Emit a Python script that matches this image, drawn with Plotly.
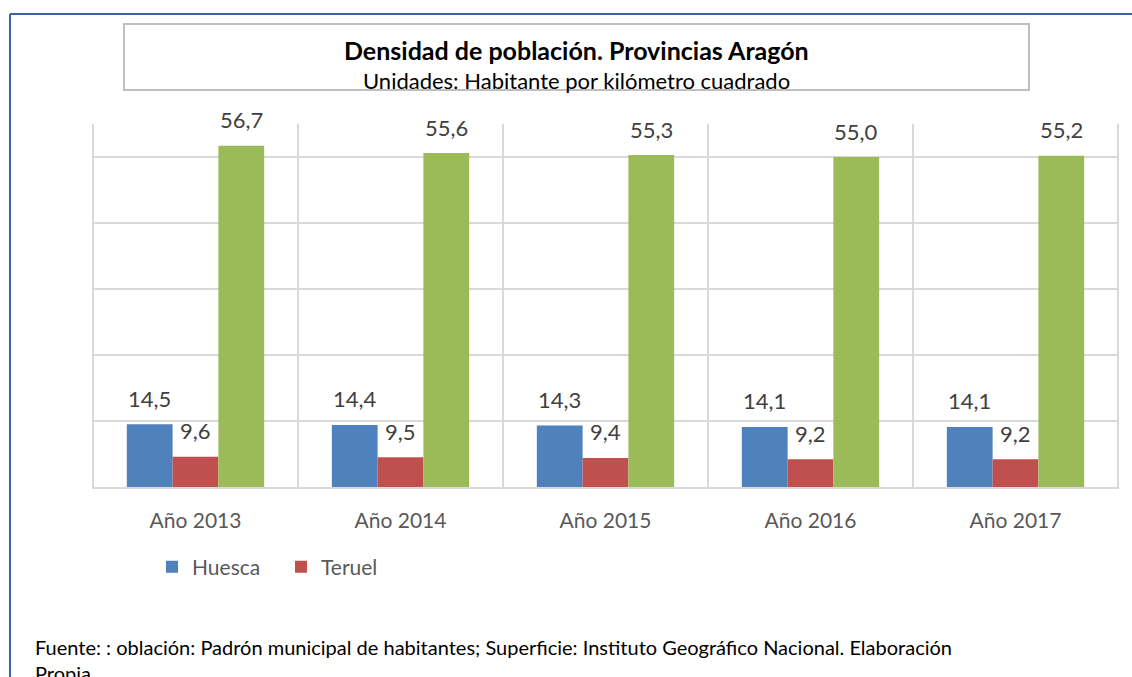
import plotly.graph_objects as go

categories = ["Año 2013", "Año 2014", "Año 2015", "Año 2016", "Año 2017"]
huesca = [14.5, 14.4, 14.3, 14.1, 14.1]
teruel = [9.6, 9.5, 9.4, 9.2, 9.2]
zaragoza = [56.7, 55.6, 55.3, 55.0, 55.2]

series = [
    ("Huesca", huesca, "#4F81BD", True),
    ("Teruel", teruel, "#C0504D", True),
    ("Zaragoza", zaragoza, "#9BBB59", False),
]

FONT = "Lato"
W, H = 1132, 677
L, R, T, B = 92, 13, 124, 190

def px_x(x):
    return (x - L) / (W - L - R)

def px_y(y):
    return (H - B - y) / (H - T - B)

fig = go.Figure()
for name, vals, color, show in series:
    fig.add_trace(go.Bar(
        x=categories, y=vals, name=name, marker_color=color,
        marker_line_width=0, showlegend=show,
    ))

# data labels
bar_px = (W - L - R) / len(categories) * (1 - 0.33) / 3
for i, (name, vals, color, show) in enumerate(series):
    for c, v in zip(categories, vals):
        fig.add_annotation(
            x=c, y=v, xref="x", yref="y",
            text=f"{v:.1f}".replace(".", ","),
            showarrow=False, xshift=(i - 1) * bar_px, yshift=26,
            yanchor="middle",
            font=dict(family=FONT, size=22, color="#404040"),
        )

# outer border (top + left)
fig.add_shape(type="line", xref="paper", yref="paper",
              x0=px_x(10), x1=px_x(W), y0=px_y(14), y1=px_y(14),
              line=dict(color="#3A62A6", width=2))
fig.add_shape(type="line", xref="paper", yref="paper",
              x0=px_x(10), x1=px_x(10), y0=px_y(14), y1=px_y(H + 5),
              line=dict(color="#3A62A6", width=2))

# title box
fig.add_shape(type="rect", xref="paper", yref="paper",
              x0=px_x(124), x1=px_x(1029), y0=px_y(90), y1=px_y(24),
              line=dict(color="#BFBFBF", width=2), fillcolor="rgba(0,0,0,0)")
fig.add_annotation(xref="paper", yref="paper", x=px_x(576), y=px_y(50),
                   text="<b>Densidad de población. Provincias Aragón</b>",
                   showarrow=False, xanchor="center", yanchor="middle",
                   font=dict(family=FONT, size=25, color="#000000"))
fig.add_annotation(xref="paper", yref="paper", x=px_x(576), y=px_y(80),
                   text="Unidades: Habitante por kilómetro cuadrado",
                   showarrow=False, xanchor="center", yanchor="middle",
                   font=dict(family=FONT, size=22, color="#000000"))

# footer
fig.add_annotation(xref="paper", yref="paper", x=px_x(33), y=px_y(633),
                   text="Fuente: : oblación: Padrón municipal de habitantes; Superficie: Instituto Geográfico Nacional. Elaboración<br>Propia",
                   showarrow=False, xanchor="left", yanchor="top", align="left",
                   font=dict(family=FONT, size=20, color="#000000"))

fig.update_layout(
    width=W, height=H,
    margin=dict(l=L, r=R, t=T, b=B, autoexpand=False),
    paper_bgcolor="white", plot_bgcolor="white",
    barmode="group", bargap=0.33, bargroupgap=0,
    separators=",.",
    font=dict(family=FONT, color="#595959"),
    showlegend=True,
    legend=dict(orientation="h", x=px_x(152), y=px_y(567), xanchor="left",
                yanchor="middle", font=dict(family=FONT, size=21, color="#595959"),
                itemsizing="constant", itemwidth=30, tracegroupgap=0,
                entrywidth=84, entrywidthmode="pixels"),
    xaxis=dict(showgrid=False, showline=True, linecolor="#D9D9D9", linewidth=2,
               ticks="", tickfont=dict(family=FONT, size=21, color="#595959"),
               ticklabelstandoff=14, mirror=False),
    yaxis=dict(range=[5, 60], tick0=5, dtick=10, showticklabels=False,
               showgrid=True, gridcolor="#D9D9D9", gridwidth=2, zeroline=False,
               showline=False),
)

# vertical category separators
for k in range(len(categories) + 1):
    fig.add_shape(type="line", xref="x", yref="y",
                  x0=k - 0.5, x1=k - 0.5, y0=5, y1=60,
                  line=dict(color="#D9D9D9", width=2), layer="below")

fig.write_html("out.html", config={"displayModeBar": False},
               post_script="document.body.style.margin='0px';")
